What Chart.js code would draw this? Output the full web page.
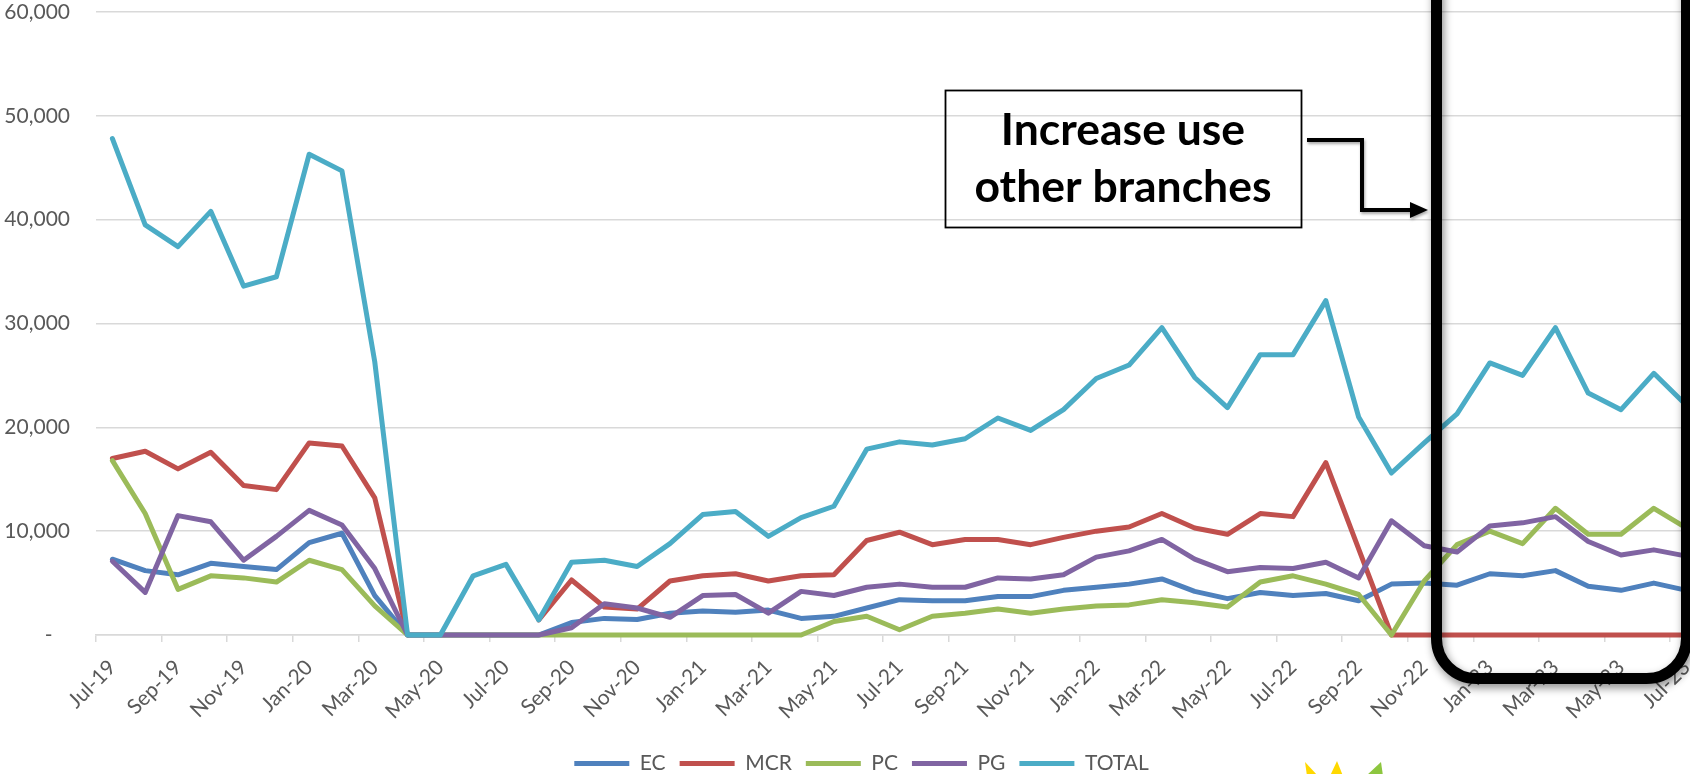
<!DOCTYPE html>
<html><head><meta charset="utf-8">
<script src="https://cdn.jsdelivr.net/npm/chart.js@4.4.0/dist/chart.umd.min.js"></script>
<style>
html,body{margin:0;padding:0;overflow:hidden;background:#fff;width:1690px;height:774px;}
#wrap{position:absolute;left:0;top:0;width:1723px;height:784px;}
</style></head><body>
<div id="wrap"><canvas id="c" width="1723" height="784"></canvas></div>
<script>
const months = ['Jul-19','Aug-19','Sep-19','Oct-19','Nov-19','Dec-19','Jan-20','Feb-20','Mar-20','Apr-20','May-20','Jun-20',
  'Jul-20','Aug-20','Sep-20','Oct-20','Nov-20','Dec-20','Jan-21','Feb-21','Mar-21','Apr-21','May-21','Jun-21',
  'Jul-21','Aug-21','Sep-21','Oct-21','Nov-21','Dec-21','Jan-22','Feb-22','Mar-22','Apr-22','May-22','Jun-22',
  'Jul-22','Aug-22','Sep-22','Oct-22','Nov-22','Dec-22','Jan-23','Feb-23','Mar-23','Apr-23','May-23','Jun-23','Jul-23'];

const EC = [7300,6200,5800,6900,6600,6300,8900,9800,3800,0,0,0,
  0,0,1200,1600,1500,2100,2300,2200,2400,1600,1800,2600,
  3400,3300,3300,3700,3700,4300,4600,4900,5400,4200,3500,4100,
  3800,4000,3300,4900,5000,4800,5900,5700,6200,4700,4300,5000,4300];

const MCR = [17000,17700,16000,17600,14400,14000,18500,18200,13200,0,null,null,
  null,1450,5300,2700,2500,5200,5700,5900,5200,5700,5800,9100,
  9900,8700,9200,9200,8700,9400,10000,10400,11700,10300,9700,11700,
  11400,16600,8300,0,0,0,0,0,0,0,0,0,0];

const PC = [16800,11700,4400,5700,5500,5100,7200,6300,2800,0,0,0,
  0,0,0,0,0,0,0,0,0,0,1300,1800,
  500,1800,2100,2500,2100,2500,2800,2900,3400,3100,2700,5100,
  5700,4900,3900,0,5200,8700,10000,8800,12200,9700,9700,12200,10300];

const PG = [7100,4100,11500,10900,7200,9500,12000,10600,6400,0,0,0,
  0,0,700,3000,2600,1700,3800,3900,2100,4200,3800,4600,
  4900,4600,4600,5500,5400,5800,7500,8100,9200,7300,6100,6500,
  6400,7000,5500,11000,8600,8000,10500,10800,11400,9000,7700,8200,7600];

const TOTAL = [47800,39500,37400,40800,33600,34500,46300,44700,26300,0,0,5700,
  6800,1450,7000,7200,6600,8800,11600,11900,9500,11300,12400,17900,
  18600,18300,18900,20900,19700,21700,24700,26000,29600,24800,21900,27000,
  27000,32200,21000,15600,18500,21300,26200,25000,29600,23300,21700,25200,22100];

const yTicks = [0,10000,20000,30000,40000,50000,60000];
const seriesNames = ['EC','MCR','PC','PG','TOTAL'];
const seriesColors = ['#4F81BD','#C0504D','#9BBB59','#8064A2','#4BACC6'];
const noteLines = ['Increase use','other branches'];

const FONT = 'Lato, "Open Sans", sans-serif';
const TXT = '#595959';
Chart.defaults.font.family = FONT;

const seriesData = [EC, MCR, PC, PG, TOTAL];
const datasets = seriesNames.map((n, i) => ({
  label: n, data: seriesData[i],
  borderColor: seriesColors[i], backgroundColor: seriesColors[i],
  borderWidth: 5, pointRadius: 0, pointHoverRadius: 0, tension: 0,
  borderJoinStyle: 'round', borderCapStyle: 'round',
  order: seriesNames.length - i, spanGaps: false, clip: 8
}));

const legendShift = {
  id: 'legendShift',
  afterLayout(chart) {
    const lg = chart.legend;
    if (lg) { lg.left += 10; lg.right += 10; }
  }
};

const annot = {
  id: 'annot',
  afterDraw(chart) {
    const ctx = chart.ctx;
    ctx.save();
    // callout text box
    ctx.strokeStyle = '#000'; ctx.lineWidth = 1.8;
    ctx.strokeRect(945.5, 90.5, 356, 137);
    ctx.fillStyle = '#000'; ctx.textAlign = 'center'; ctx.textBaseline = 'alphabetic';
    ctx.font = 'bold 100px ' + FONT;
    const w = ctx.measureText(noteLines[1]).width;
    const fs = 100 * 297 / w;
    ctx.font = 'bold ' + fs.toFixed(1) + 'px ' + FONT;
    ctx.fillText(noteLines[0], 1123, 145);
    ctx.fillText(noteLines[1], 1123, 202);
    // elbow connector
    ctx.save();
    ctx.shadowColor = 'rgba(0,0,0,0.35)'; ctx.shadowBlur = 3; ctx.shadowOffsetX = 1; ctx.shadowOffsetY = 2;
    ctx.lineWidth = 4; ctx.lineJoin = 'miter'; ctx.lineCap = 'butt';
    ctx.beginPath(); ctx.moveTo(1307, 140); ctx.lineTo(1362, 140); ctx.lineTo(1362, 210); ctx.lineTo(1413, 210); ctx.stroke();
    ctx.beginPath(); ctx.moveTo(1428, 210); ctx.lineTo(1410, 202); ctx.lineTo(1410, 218); ctx.closePath(); ctx.fill();
    ctx.restore();
    // rounded rectangle highlight
    ctx.save();
    ctx.shadowColor = 'rgba(0,0,0,0.45)'; ctx.shadowBlur = 8; ctx.shadowOffsetX = 2; ctx.shadowOffsetY = 4;
    ctx.lineWidth = 11; ctx.strokeStyle = '#000';
    const L = 1436.5, R = 1686.5, T = -80, B = 678.5, r = 40;
    ctx.beginPath();
    ctx.moveTo(L, T);
    ctx.lineTo(L, B - r);
    ctx.arcTo(L, B, L + r, B, r);
    ctx.lineTo(R - r, B);
    ctx.arcTo(R, B, R, B - r, r);
    ctx.lineTo(R, T);
    ctx.stroke();
    ctx.restore();
    // partial clipart at the bottom edge
    ctx.fillStyle = '#FFD800';
    ctx.beginPath(); ctx.moveTo(1305, 762); ctx.lineTo(1318, 776); ctx.lineTo(1307, 776); ctx.closePath(); ctx.fill();
    ctx.beginPath(); ctx.moveTo(1337, 761); ctx.lineTo(1343, 776); ctx.lineTo(1330, 776); ctx.closePath(); ctx.fill();
    ctx.fillStyle = '#8DC63F';
    ctx.beginPath(); ctx.moveTo(1381, 762); ctx.lineTo(1383, 776); ctx.lineTo(1366, 776); ctx.closePath(); ctx.fill();
    ctx.restore();
  }
};

new Chart(document.getElementById('c'), {
  type: 'line',
  data: { labels: months, datasets },
  options: {
    responsive: false, animation: false, devicePixelRatio: 1,
    layout: { padding: { left: 0, right: 20, top: 12, bottom: 0 } },
    plugins: {
      tooltip: { enabled: false },
      legend: {
        position: 'bottom',
        labels: {
          boxWidth: 55, boxHeight: 5, padding: 14, color: TXT, font: { size: 21 },
          generateLabels(chart) {
            const items = Chart.defaults.plugins.legend.labels.generateLabels(chart);
            items.sort((a, b) => a.datasetIndex - b.datasetIndex);
            items.forEach(it => { it.lineWidth = 0; it.fillStyle = it.strokeStyle; });
            return items;
          }
        }
      }
    },
    scales: {
      x: {
        offset: true,
        grid: { offset: true, drawOnChartArea: false, drawTicks: true, tickLength: 7, lineWidth: 1.5,
                color: c => (c.index % 2 === 0 ? '#d9d9d9' : 'rgba(0,0,0,0)') },
        border: { display: true, color: '#d9d9d9', width: 1.5 },
        ticks: { autoSkip: false, maxRotation: 45, minRotation: 45, padding: 13, color: TXT, font: { size: 21 },
                 callback: function (v, i) { return i % 2 === 0 ? this.getLabelForValue(v) : ''; } },
        afterFit: s => { s.height = 104; }
      },
      y: {
        min: yTicks[0], max: yTicks[yTicks.length - 1],
        afterBuildTicks: s => { s.ticks = yTicks.map(v => ({ value: v })); },
        ticks: { padding: 26, color: TXT, font: { size: 21, lineHeight: 1.1 },
                 callback: v => (v === 0 ? '-\u2007 ' : v.toLocaleString('en-US')) },
        grid: { color: '#d9d9d9', lineWidth: 1.5, drawTicks: false },
        border: { display: false },
        afterFit: s => { s.width = 96; s.paddingTop = 0; s.paddingBottom = 0; }
      }
    }
  },
  plugins: [legendShift, annot]
});
</script>
</body></html>
